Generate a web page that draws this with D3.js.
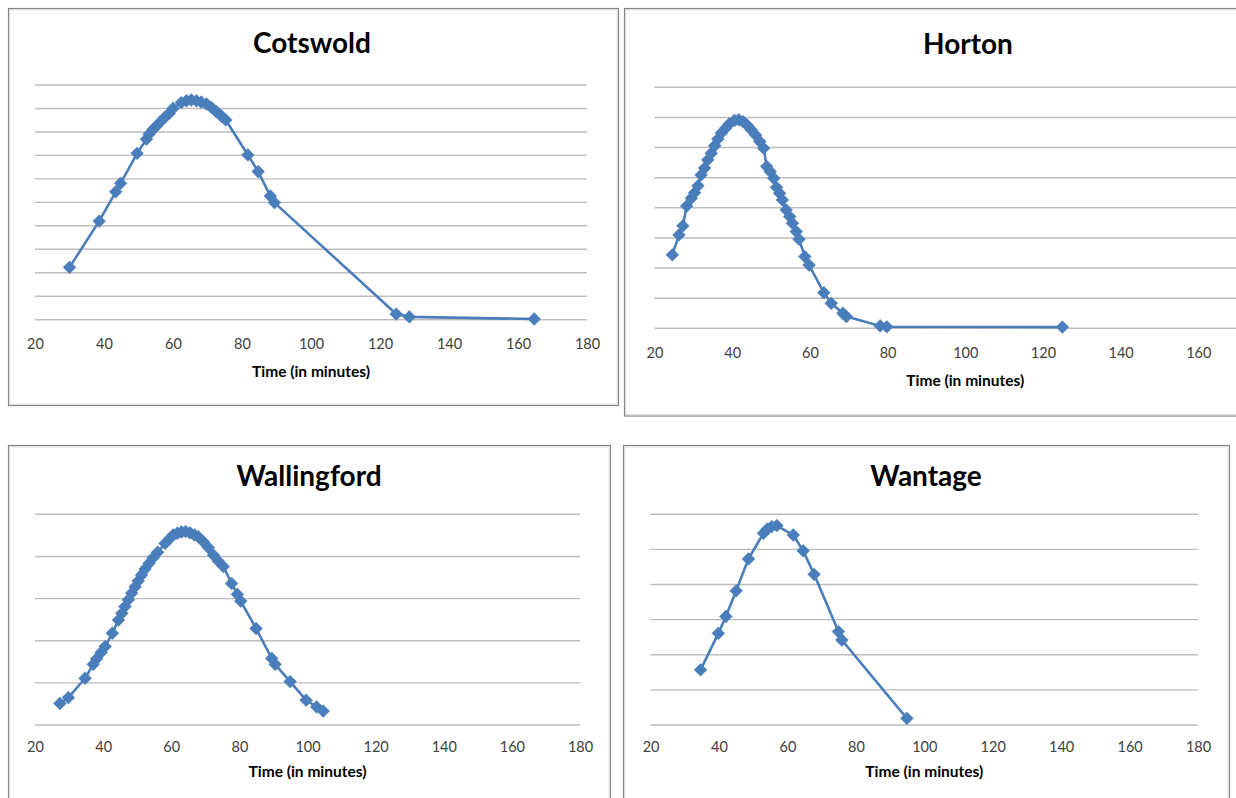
<!DOCTYPE html>
<html>
<head>
<meta charset="utf-8">
<script src="https://cdn.jsdelivr.net/npm/d3@7/dist/d3.min.js"></script>
<style>
  html, body { margin: 0; padding: 0; background: #ffffff; overflow: hidden; }
  svg { display: block; }
</style>
</head>
<body>
<svg id="chart" width="1236" height="798"></svg>
<script>
// ---------- DATA ----------
const xTickLabels = [20, 40, 60, 80, 100, 120, 140, 160, 180];
const hortonTickLabels = [20, 40, 60, 80, 100, 120, 140, 160]; // 180 lies beyond the visible frame

const cotswoldTime  = [30, 38.6, 43.4, 44.8, 49.6, 52.3, 53.1, 54.2, 55.2, 56.4, 57.6, 58.9, 60.0, 62.4, 63.9, 65.3, 66.8, 68.2, 69.7, 71.1, 72.6, 74.0, 75.3, 81.7, 84.7, 88.2, 89.4, 124.7, 128.5, 164.7];
const cotswoldValue = [2.23, 4.20, 5.45, 5.81, 7.09, 7.69, 7.91, 8.11, 8.25, 8.44, 8.62, 8.79, 9.00, 9.25, 9.33, 9.36, 9.33, 9.27, 9.19, 9.05, 8.86, 8.68, 8.51, 7.02, 6.31, 5.27, 4.99, 0.24, 0.12, 0.03];

const hortonTime  = [24.6, 26.3, 27.3, 28.3, 29.5, 30.3, 31.2, 32.0, 32.9, 33.7, 34.6, 35.5, 36.3, 37.2, 38.3, 39.3, 40.6, 41.7, 42.8, 43.8, 44.9, 46.0, 47.1, 48.1, 48.9, 49.8, 50.7, 51.4, 52.2, 52.9, 53.9, 54.8, 55.5, 56.5, 57.2, 58.7, 59.8, 63.6, 65.5, 68.5, 69.4, 78.1, 79.8, 125.0];
const hortonValue = [2.44, 3.10, 3.40, 4.06, 4.32, 4.50, 4.73, 5.09, 5.32, 5.59, 5.81, 6.06, 6.28, 6.48, 6.64, 6.79, 6.90, 6.92, 6.86, 6.75, 6.59, 6.42, 6.20, 5.98, 5.37, 5.20, 4.98, 4.68, 4.48, 4.26, 3.93, 3.71, 3.49, 3.21, 2.96, 2.38, 2.10, 1.18, 0.83, 0.50, 0.39, 0.08, 0.05, 0.04];

const wallingfordTime  = [27.3, 29.8, 34.7, 37.1, 38.1, 39.4, 40.6, 42.7, 44.5, 45.5, 46.4, 47.4, 48.4, 49.4, 50.3, 51.3, 52.3, 53.5, 54.7, 56.0, 58.2, 59.6, 60.6, 61.8, 63.0, 64.2, 65.5, 66.8, 67.9, 69.4, 70.9, 72.4, 73.8, 75.3, 77.7, 79.4, 80.4, 84.9, 89.5, 90.5, 94.9, 99.6, 102.7, 104.6];
const wallingfordValue = [0.51, 0.65, 1.11, 1.44, 1.57, 1.72, 1.86, 2.18, 2.49, 2.65, 2.81, 2.97, 3.13, 3.28, 3.42, 3.56, 3.70, 3.84, 3.97, 4.10, 4.31, 4.43, 4.51, 4.55, 4.58, 4.59, 4.56, 4.51, 4.47, 4.35, 4.21, 4.03, 3.89, 3.76, 3.36, 3.10, 2.94, 2.29, 1.58, 1.44, 1.03, 0.59, 0.43, 0.33];

const wantageTime  = [34.6, 39.8, 42.0, 45.0, 48.6, 53.0, 54.1, 55.4, 56.9, 61.7, 64.6, 67.8, 74.9, 75.9, 94.9];
const wantageValue = [1.57, 2.61, 3.09, 3.82, 4.73, 5.46, 5.58, 5.65, 5.68, 5.41, 4.96, 4.29, 2.66, 2.42, 0.19];

const panelTitles = ["Cotswold", "Horton", "Wallingford", "Wantage"];
const gridCounts  = [10, 8, 5, 6];   // number of gridline intervals (y units)
const xAxisTitle  = "Time (in minutes)";

// ---------- LAYOUT (positions / sizes only) ----------
const layout = [
  { box: [8, 8, 610, 397],     plot: [35, 85, 587, 319.7],       titleX: 312, titleY: 43,    tickY: 343.5, labelY: 372, ticks: xTickLabels },
  { box: [624, 8, 700, 407.5], plot: [654.5, 87.3, 1276, 328.3], titleX: 968, titleY: 44,    tickY: 352.5, labelY: 381, ticks: hortonTickLabels },
  { box: [8, 445, 602, 400],   plot: [35, 514.3, 580, 725],      titleX: 309, titleY: 476.5, tickY: 746.5, labelY: 772, ticks: xTickLabels },
  { box: [623, 445, 606, 400], plot: [650.6, 514.3, 1198, 725],  titleX: 926, titleY: 476.5, tickY: 746.5, labelY: 772, ticks: xTickLabels }
];

const series = [
  [cotswoldTime, cotswoldValue],
  [hortonTime, hortonValue],
  [wallingfordTime, wallingfordValue],
  [wantageTime, wantageValue]
];

const FONT = "Lato, 'Open Sans', sans-serif";
const BLUE = "#4a7ebb";

const svg = d3.select("#chart");

layout.forEach((L, i) => {
  const g = svg.append("g");
  const [bx, by, bw, bh] = L.box;
  // border (gray frame with light inner line)
  g.append("rect").attr("x", bx + 0.5).attr("y", by + 0.5).attr("width", bw).attr("height", bh)
    .attr("fill", "#ffffff").attr("stroke", "#878787").attr("stroke-width", 1.2);
  g.append("rect").attr("x", bx + 1.8).attr("y", by + 1.8).attr("width", bw - 2.6).attr("height", bh - 2.6)
    .attr("fill", "none").attr("stroke", "#d6d6d6").attr("stroke-width", 1);

  const [x0, y0, x1, y1] = L.plot;
  const x = d3.scaleLinear().domain([20, 180]).range([x0, x1]);
  const y = d3.scaleLinear().domain([0, gridCounts[i]]).range([y1, y0]);

  // horizontal gridlines
  const yTicks = d3.range(0, gridCounts[i] + 1);
  g.append("g").selectAll("line").data(yTicks).join("line")
    .attr("x1", x0).attr("x2", x1)
    .attr("y1", d => y(d)).attr("y2", d => y(d))
    .attr("stroke", "#bdbdbd").attr("stroke-width", 1.4);

  // x axis tick labels using d3 axis
  const axis = d3.axisBottom(x).tickValues(L.ticks).tickSize(0).tickPadding(0).tickFormat(d3.format("d"));
  const ax = g.append("g").attr("transform", `translate(0,${L.tickY})`).call(axis);
  ax.select(".domain").remove();
  ax.selectAll("text")
    .attr("dy", "0.35em")
    .attr("font-family", FONT).attr("font-size", 14.5).attr("fill", "#404040");

  // title
  g.append("text").attr("x", L.titleX).attr("y", L.titleY)
    .attr("text-anchor", "middle").attr("dy", "0.35em")
    .attr("font-family", FONT).attr("font-weight", "bold").attr("font-size", 28).attr("fill", "#000")
    .text(panelTitles[i]);

  // x axis title
  g.append("text").attr("x", (x(20) + x(180)) / 2).attr("y", L.labelY)
    .attr("text-anchor", "middle").attr("dy", "0.35em")
    .attr("font-family", FONT).attr("font-weight", "bold").attr("font-size", 15.5).attr("fill", "#000")
    .text(xAxisTitle);

  // data
  const [tx, vy] = series[i];
  const pts = tx.map((t, k) => ({ t: t, v: vy[k] }));
  const line = d3.line().x(d => x(d.t)).y(d => y(d.v));
  g.append("path").datum(pts).attr("d", line)
    .attr("fill", "none").attr("stroke", BLUE).attr("stroke-width", 2.6).attr("stroke-linejoin", "round");

  const sym = d3.symbol().type(d3.symbolSquare).size(82);
  g.append("g").selectAll("path").data(pts).join("path")
    .attr("d", sym)
    .attr("transform", d => `translate(${x(d.t)},${y(d.v)}) rotate(45)`)
    .attr("fill", BLUE).attr("stroke", BLUE).attr("stroke-width", 0.5);
});
</script>
</body>
</html>
